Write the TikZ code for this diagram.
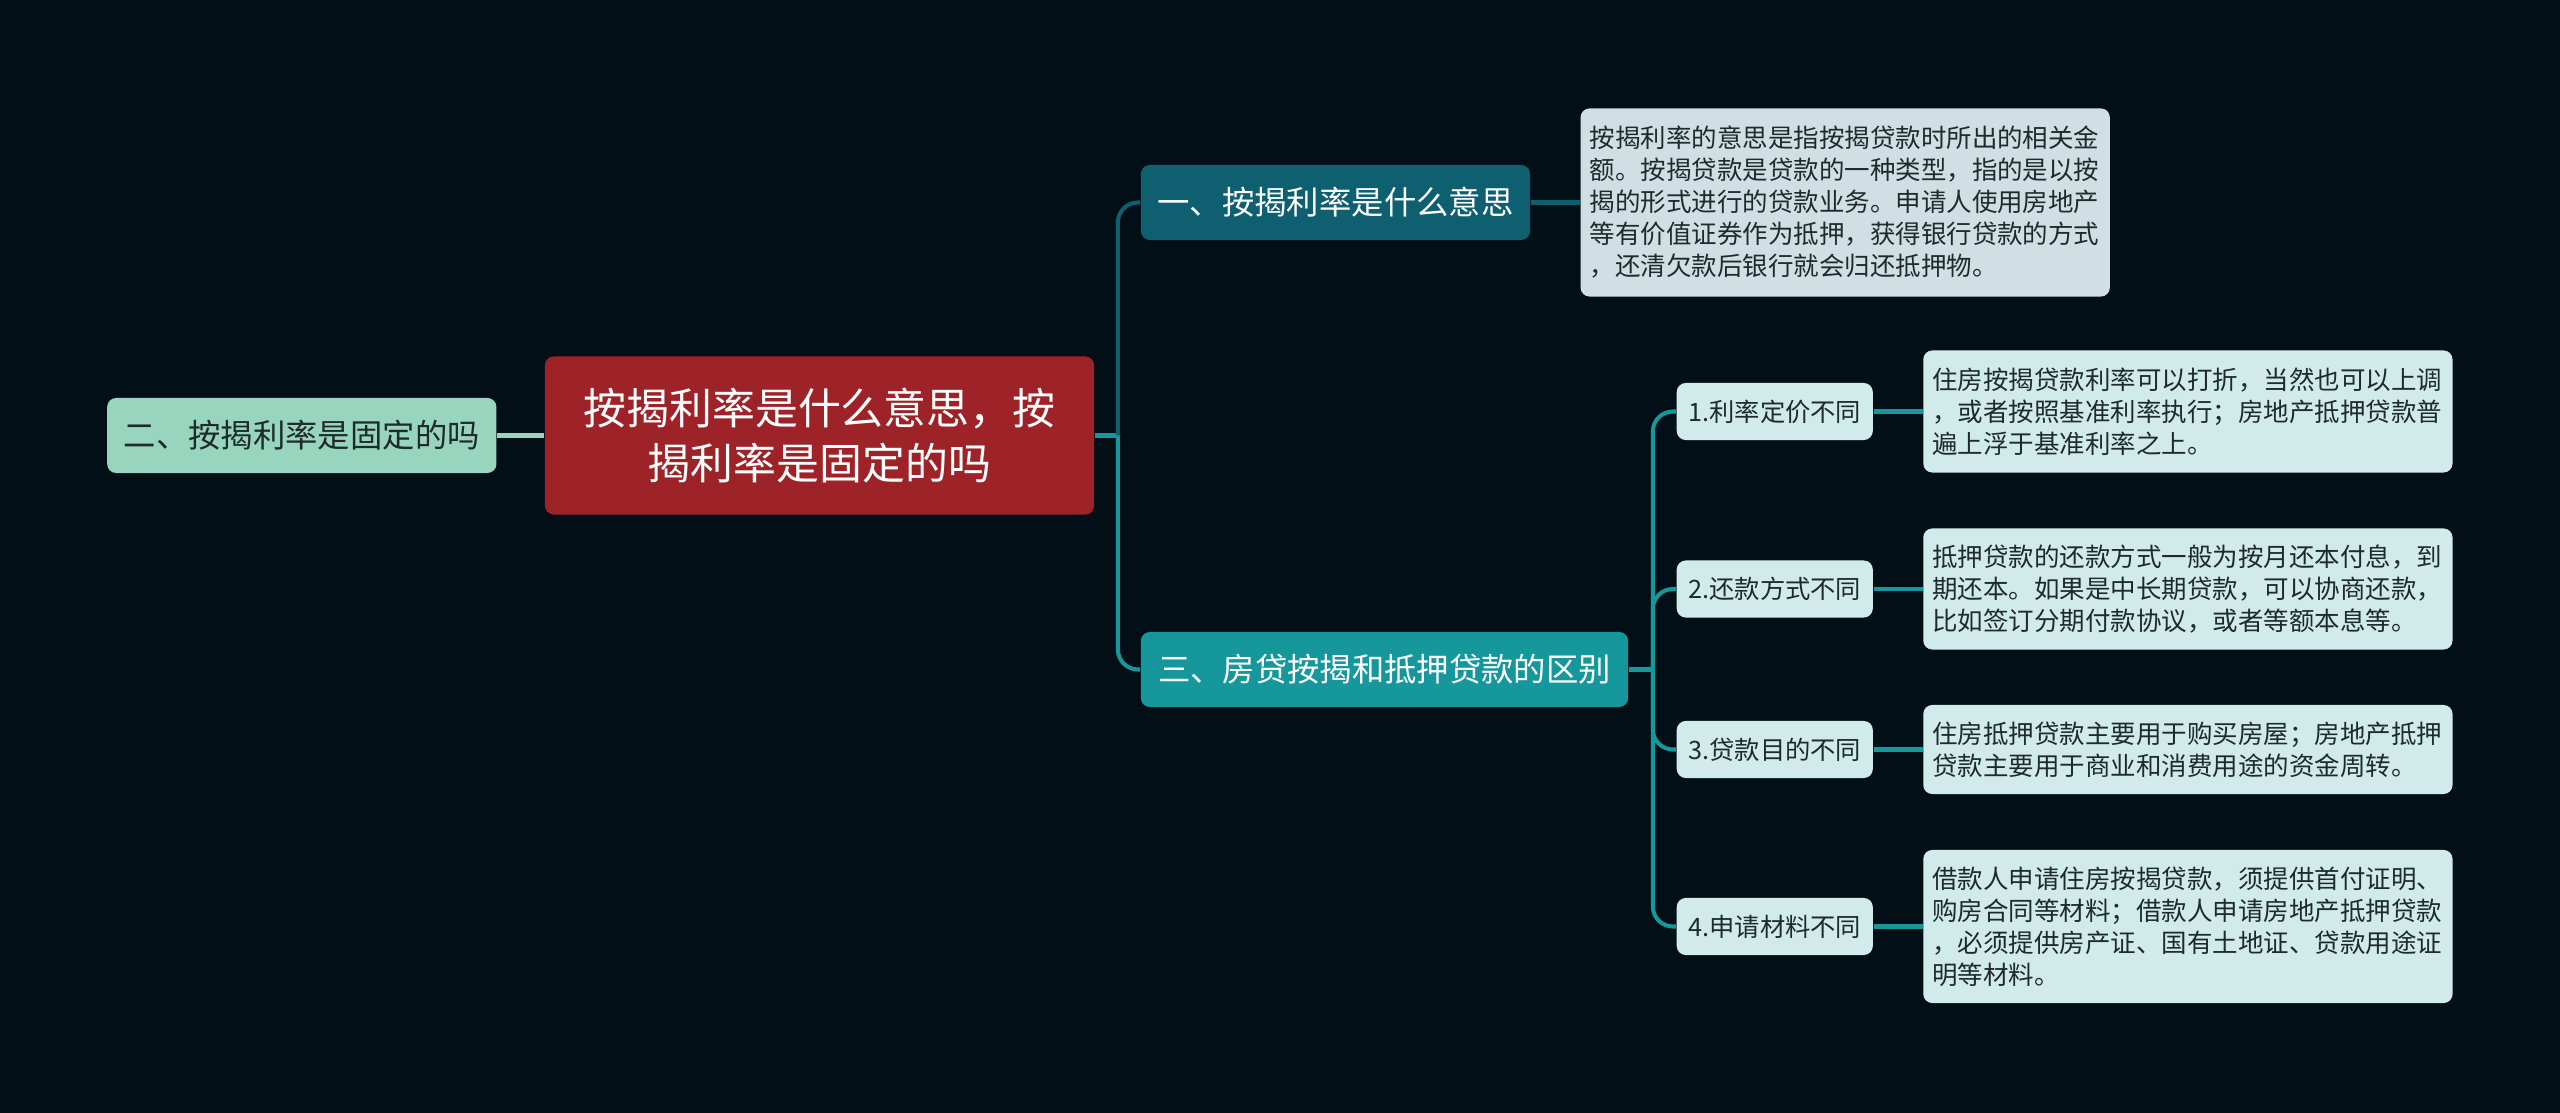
\documentclass[tikz,border=0pt]{standalone}
\usepackage{fontspec}
\setmainfont{Noto Sans CJK SC}
\usetikzlibrary{positioning}

\definecolor{bgdark}{HTML}{030F16}
\definecolor{rootred}{HTML}{9E2328}
\definecolor{mint}{HTML}{98D5BE}
\definecolor{tealdark}{HTML}{0E5F70}
\definecolor{tealmid}{HTML}{16979C}
\definecolor{paleblue}{HTML}{CFDFE3}
\definecolor{palecyan}{HTML}{D1EBEA}
\definecolor{inkdark}{HTML}{1E2A2C}

\begin{document}
\begin{tikzpicture}[
  x=0.01cm, y=-0.01cm,
  box/.style={rounded corners=0.09cm, align=center, inner sep=0pt},
  topic/.style={box, fill=rootred, text=white, minimum width=5.49cm,
                minimum height=1.58cm, font=\fontsize{12.2pt}{15.8pt}\selectfont},
  branch/.style={box, minimum height=0.75cm, font=\fontsize{9.2pt}{11pt}\selectfont},
  sub/.style={box, fill=palecyan, text=inkdark, minimum width=1.96cm,
              minimum height=0.57cm, font=\fontsize{7.2pt}{9pt}\selectfont},
  desc/.style={box, fill=palecyan, text=inkdark, align=left, text width=5.11cm,
               inner xsep=0.09cm, minimum height=#1,
               font=\fontsize{7.25pt}{9.1pt}\selectfont},
  link/.style={line width=1.15pt},
  node distance=0.49cm
]
  \fill[bgdark] (0,0) rectangle (2560,1113);

  % Centre and left branch
  \node[topic] (root) at (819.5,435.5) {按揭利率是什么意思，按\\揭利率是固定的吗};
  \node[branch, fill=mint, text=inkdark, minimum width=3.89cm,
        left=0.47cm of root] (b2) {二、按揭利率是固定的吗};

  % Right branches
  \node[branch, fill=tealdark, text=white, minimum width=3.89cm]
       (b1) at (1335.5,202.5) {一、按揭利率是什么意思};
  \node[branch, fill=tealmid, text=white, minimum width=4.87cm]
       (b3) at (1384.5,669.5) {三、房贷按揭和抵押贷款的区别};

  \node[desc=1.88cm, fill=paleblue, right=of b1] (d0)
       {按揭利率的意思是指按揭贷款时所出的相关金\\额。按揭贷款是贷款的一种类型，指的是以按\\揭的形式进行的贷款业务。申请人使用房地产\\等有价值证券作为抵押，获得银行贷款的方式\\，还清欠款后银行就会归还抵押物。};

  % Differences
  \node[sub, anchor=west] (s1) at (1676,411.5) {1.利率定价不同};
  \node[sub, anchor=west] (s2) at (1676,589) {2.还款方式不同};
  \node[sub, anchor=west] (s3) at (1676,749.5) {3.贷款目的不同};
  \node[sub, anchor=west] (s4) at (1676,926.5) {4.申请材料不同};

  \node[desc=1.22cm, right=of s1] (e1)
       {住房按揭贷款利率可以打折，当然也可以上调\\，或者按照基准利率执行；房地产抵押贷款普\\遍上浮于基准利率之上。};
  \node[desc=1.21cm, right=of s2] (e2)
       {抵押贷款的还款方式一般为按月还本付息，到\\期还本。如果是中长期贷款，可以协商还款，\\比如签订分期付款协议，或者等额本息等。};
  \node[desc=0.89cm, right=of s3] (e3)
       {住房抵押贷款主要用于购买房屋；房地产抵押\\贷款主要用于商业和消费用途的资金周转。};
  \node[desc=1.53cm, right=of s4] (e4)
       {借款人申请住房按揭贷款，须提供首付证明、\\购房合同等材料；借款人申请房地产抵押贷款\\，必须提供房产证、国有土地证、贷款用途证\\明等材料。};

  % Connectors
  \coordinate[right=0.23cm of root] (rj);
  \coordinate[right=0.24cm of b3] (sj);

  \draw[link, mint] (b2) -- (root);
  \draw[link, tealmid] (root.east) -- (rj);
  \draw[link, tealdark, rounded corners=0.2cm] (rj) |- (b1.west);
  \draw[link, tealmid, rounded corners=0.2cm] (rj) |- (b3.west);
  \draw[link, tealdark] (b1) -- (d0);

  \draw[link, tealmid] (b3.east) -- (sj);
  \draw[link, tealmid, rounded corners=0.2cm] (sj) |- (s1.west);
  \draw[link, tealmid, rounded corners=0.2cm] (sj) |- (s2.west);
  \draw[link, tealmid, rounded corners=0.2cm] (sj) |- (s3.west);
  \draw[link, tealmid, rounded corners=0.2cm] (sj) |- (s4.west);

  \draw[link, tealmid] (s1) -- (e1);
  \draw[link, tealmid] (s2) -- (e2);
  \draw[link, tealmid] (s3) -- (e3);
  \draw[link, tealmid] (s4) -- (e4);
\end{tikzpicture}
\end{document}
